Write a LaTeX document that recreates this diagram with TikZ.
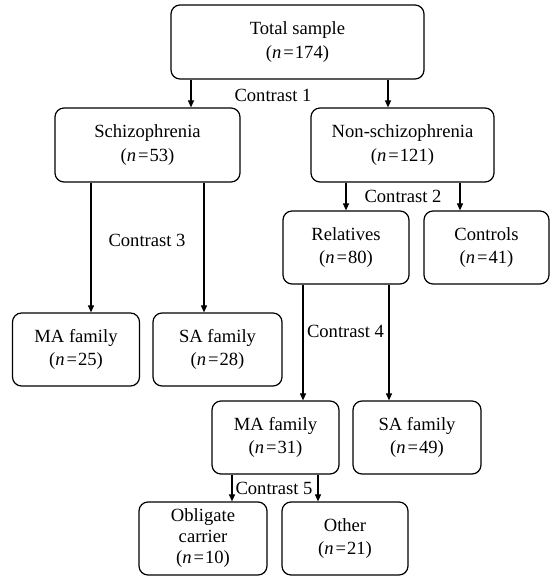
\documentclass[tikz,border=0pt]{standalone}
\usepackage{fontspec}
\setmainfont{Liberation Serif}
\usetikzlibrary{arrows.meta}
\newcommand{\nn}[1]{(\textit{n}\kern2pt=\kern1pt#1)}
\begin{document}
\begin{tikzpicture}[x=1pt,y=-1pt,
  box/.style={draw, line width=1.2pt, rounded corners=9pt, align=center, inner sep=0pt,
    font=\fontsize{18.6}{23.5}\selectfont},
  arr/.style={line width=1.1pt, -{Triangle[length=7pt,width=6pt]}},
  lab/.style={font=\fontsize{18.6}{22}\selectfont, inner sep=0pt}]
\useasboundingbox (0,0) rectangle (553,576);
\node[box, minimum width=253pt, minimum height=74pt] (total) at (297.5,42) {Total sample\\\nn{174}};
\node[box, minimum width=185pt, minimum height=74pt] (schizo) at (147.5,145) {Schizophrenia\\\nn{53}};
\node[box, minimum width=183pt, minimum height=74pt] (nonschizo) at (402.5,145) {Non-schizophrenia\\\nn{121}};
\node[box, minimum width=126pt, minimum height=73pt] (rel) at (346,247.5) {Relatives\\\nn{80}};
\node[box, minimum width=125pt, minimum height=73pt] (ctrl) at (486.5,247.5) {Controls\\\nn{41}};
\node[box, minimum width=127pt, minimum height=73pt] (maA) at (76,349.5) {MA family\\\nn{25}};
\node[box, minimum width=129pt, minimum height=73pt] (saA) at (217.5,349.5) {SA family\\\nn{28}};
\node[box, minimum width=127pt, minimum height=73pt] (maB) at (275.5,437.5) {MA family\\\nn{31}};
\node[box, minimum width=128pt, minimum height=73pt] (saB) at (417,437.5) {SA family\\\nn{49}};
\node[box, minimum width=128pt, minimum height=73pt, font=\fontsize{18.6}{21}\selectfont] (oc) at (203,538.5) {Obligate\\carrier\\\nn{10}};
\node[box, minimum width=126pt, minimum height=73pt] (other) at (345,538.5) {Other\\\nn{21}};
\node[lab] (c1) at (273,95) {Contrast 1};
\node[lab] (c2) at (403,196) {Contrast 2};
\node[lab] (c3) at (147,240) {Contrast 3};
\node[lab] (c4) at (345.5,331) {Contrast 4};
\node[lab] (c5) at (274,488) {Contrast 5};
\coordinate (x1) at (191,0); \coordinate (x2) at (388,0);
\coordinate (x3) at (91,0); \coordinate (x4) at (204,0);
\coordinate (x5) at (346,0); \coordinate (x6) at (460,0);
\coordinate (x7) at (303,0); \coordinate (x8) at (389,0);
\coordinate (x9) at (232,0); \coordinate (x10) at (318,0);
\draw[arr] (total.south -| x1) -- (schizo.north -| x1);
\draw[arr] (total.south -| x2) -- (nonschizo.north -| x2);
\draw[arr] (schizo.south -| x3) -- (maA.north -| x3);
\draw[arr] (schizo.south -| x4) -- (saA.north -| x4);
\draw[arr] (nonschizo.south -| x5) -- (rel.north -| x5);
\draw[arr] (nonschizo.south -| x6) -- (ctrl.north -| x6);
\draw[arr] (rel.south -| x7) -- (maB.north -| x7);
\draw[arr] (rel.south -| x8) -- (saB.north -| x8);
\draw[arr] (maB.south -| x9) -- (oc.north -| x9);
\draw[arr] (maB.south -| x10) -- (other.north -| x10);
\end{tikzpicture}
\end{document}
